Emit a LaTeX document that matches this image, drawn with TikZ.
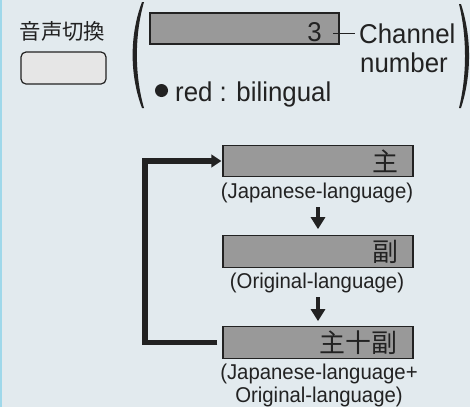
\documentclass[tikz,border=0pt]{standalone}
\usepackage{fontspec}
\setmainfont{Liberation Sans}[FakeStretch=0.95]
\newfontfamily\cjk{Noto Sans CJK JP}
\usetikzlibrary{arrows.meta}
\definecolor{bg}{HTML}{E2EAEE}
\definecolor{edgeblue}{HTML}{9FD8EA}
\definecolor{ink}{HTML}{222222}
\definecolor{boxgray}{HTML}{999999}
\definecolor{btn}{HTML}{E6E6E6}
\begin{document}
\begin{tikzpicture}[x=1bp,y=-1bp,
  txt/.style={inner sep=0pt, text=ink},
  big/.style={font=\fontsize{27.3}{30}\selectfont},
  small/.style={font=\fontsize{21.5}{23}\selectfont},
  kanji/.style={inner sep=0pt, text=ink, font=\cjk\fontsize{26}{26}\selectfont},
  disp/.style={draw=ink, fill=boxgray, line width=1.2bp, minimum width=190bp, minimum height=31.5bp, inner sep=0pt},
  varrow/.style={draw=ink, line width=4.5bp, -{Triangle[length=12bp,width=14bp]}},
  loopline/.style={draw=ink, line width=5.5bp, -{Triangle[length=10bp,width=12.5bp]}},
  paren/.style={fill=ink}
]
% background
\fill[bg] (0,0) rectangle (470,407);
\fill[edgeblue] (0,0) rectangle (2,407);
\useasboundingbox (0,0) rectangle (470,407);

% title and button
\node[txt, font=\cjk\fontsize{21.5}{21.5}\selectfont] (title) at (62.5,31.5) {音声切換};
\node[draw=ink, fill=btn, rounded corners=5bp, line width=1.2bp, minimum width=85bp, minimum height=32bp, inner sep=0pt] (btn) at (63.5,68) {};

% parentheses
\fill[paren] (142,2) .. controls (129.5,35) and (129.5,75) .. (142,108) -- (144,108) .. controls (134.5,75) and (134.5,35) .. (144,2) -- cycle;
\fill[paren] (461,4) .. controls (471.7,37) and (471.7,75) .. (461,108) -- (459,108) .. controls (467,75) and (467,37) .. (459,4) -- cycle;

% display
\node[disp, minimum width=189bp, minimum height=31bp] (disp) at (244.5,28.5) {};
\node[txt, big, anchor=base east] (three) at (322,41) {3};
\node[txt, big, anchor=base west] (ch) at (359,43.5) {Channel};
\node[txt, big, anchor=base west] (num) at (360,72.5) {number};
\draw[ink, line width=1.2bp] ([xshift=11bp]three.east |- ch.west) -- ([xshift=-4bp]ch.west);
\node[circle, fill=ink, minimum size=13bp, inner sep=0pt] (dot) at (161.5,90.5) {};
\node[txt, big, anchor=base west] (red) at (175,101.5) {red : bilingual};

% cycle boxes
\node[disp] (b1) at (318,161) {};
\node[kanji, anchor=east] (k1) at ([xshift=-15bp]b1.east) {主};
\node[txt, small] (l1) at (317,193) {(Japanese-language)};

\node[disp] (b2) at (318,251.5) {};
\node[kanji, anchor=east] (k2) at ([xshift=-15bp]b2.east) {副};
\node[txt, small] (l2) at (317,283) {(Original-language)};

\node[disp] (b3) at (318,342.5) {};
\node[kanji, anchor=east] (k3) at ([xshift=-16bp]b3.east) {主十副};
\node[txt, small, align=center] (l3) at (319,385.5) {(Japanese-language+\\Original-language)};

% arrows
\draw[varrow, shorten <=4bp, shorten >=6bp] (b2.north |- l1.south) -- (b2.north);
\draw[varrow, shorten <=4bp, shorten >=5bp] (b3.north |- l2.south) -- (b3.north);
\coordinate (lp) at (145,342);
\draw[loopline, shorten <=5bp, shorten >=1bp] (b3.west) -- (b3.west -| lp) |- (b1.west);
\end{tikzpicture}
\end{document}
